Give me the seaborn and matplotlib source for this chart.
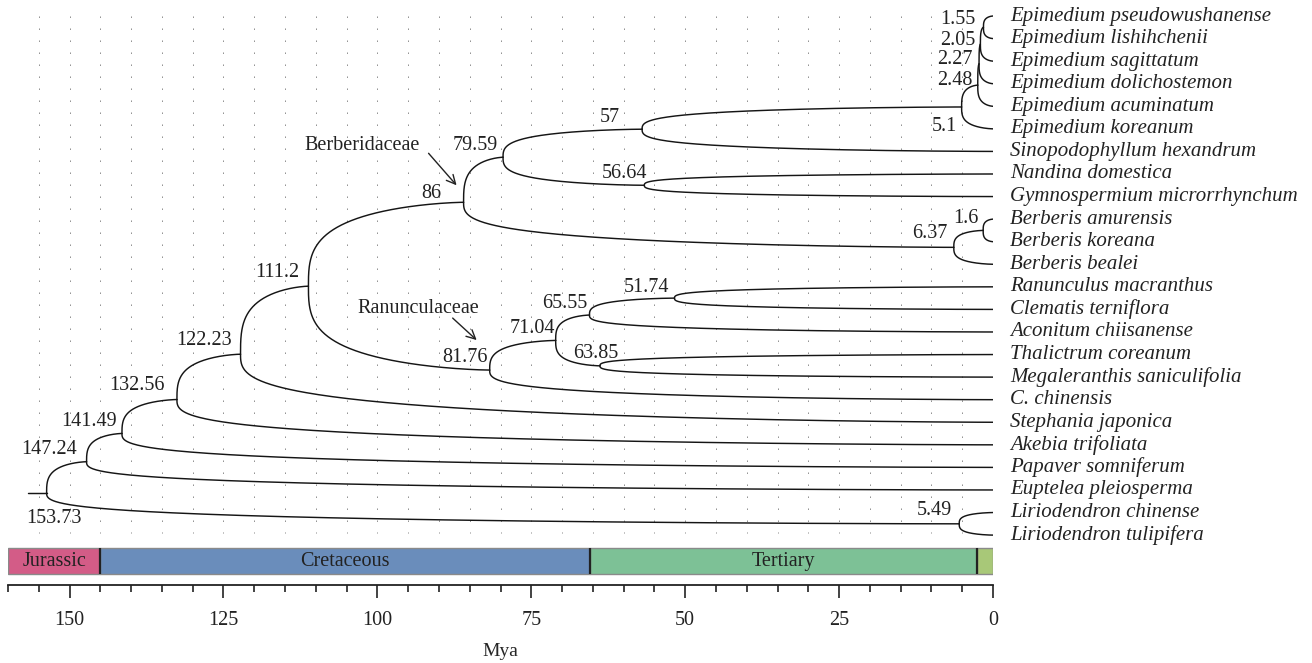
import matplotlib
matplotlib.use("Agg")
import matplotlib.pyplot as plt
import numpy as np
import pandas as pd
import seaborn as sns
from matplotlib.transforms import ScaledTranslation

# tips, top to bottom
tips = [
    "Epimedium pseudowushanense",
    "Epimedium lishihchenii",
    "Epimedium sagittatum",
    "Epimedium dolichostemon",
    "Epimedium acuminatum",
    "Epimedium koreanum",
    "Sinopodophyllum hexandrum",
    "Nandina domestica",
    "Gymnospermium microrrhynchum",
    "Berberis amurensis",
    "Berberis koreana",
    "Berberis bealei",
    "Ranunculus macranthus",
    "Clematis terniflora",
    "Aconitum chiisanense",
    "Thalictrum coreanum",
    "Megaleranthis saniculifolia",
    "C. chinensis",
    "Stephania japonica",
    "Akebia trifoliata",
    "Papaver somniferum",
    "Euptelea pleiosperma",
    "Liriodendron chinense",
    "Liriodendron tulipifera",
]

# internal nodes (age in Mya); children are tip names or earlier node indices
node_ages = [1.55, 2.05, 2.27, 2.48, 5.1, 57, 56.64, 79.59, 1.6, 6.37, 86,
             51.74, 65.55, 63.85, 71.04, 81.76, 111.2, 122.23, 132.56,
             141.49, 147.24, 5.49, 153.73]
node_children = [
    ("Epimedium pseudowushanense", "Epimedium lishihchenii"),
    (0, "Epimedium sagittatum"),
    (1, "Epimedium dolichostemon"),
    (2, "Epimedium acuminatum"),
    (3, "Epimedium koreanum"),
    (4, "Sinopodophyllum hexandrum"),
    ("Nandina domestica", "Gymnospermium microrrhynchum"),
    (5, 6),
    ("Berberis amurensis", "Berberis koreana"),
    (8, "Berberis bealei"),
    (7, 9),
    ("Ranunculus macranthus", "Clematis terniflora"),
    (11, "Aconitum chiisanense"),
    ("Thalictrum coreanum", "Megaleranthis saniculifolia"),
    (12, 13),
    (14, "C. chinensis"),
    (10, 15),
    (16, "Stephania japonica"),
    (17, "Akebia trifoliata"),
    (18, "Papaver somniferum"),
    (19, "Euptelea pleiosperma"),
    ("Liriodendron chinense", "Liriodendron tulipifera"),
    (20, 21),
]
root_stub = 3.1

clade_names = ["Berberidaceae", "Ranunculaceae"]
clade_nodes = [10, 15]

periods = ["Jurassic", "Cretaceous", "Tertiary", "Quaternary"]
period_start = [160, 145, 65.5, 2.6]
period_end = [145, 65.5, 2.6, 0]
period_colors = ["#d35c87", "#6a8dbb", "#7dc196", "#a8c878"]

# label offsets in pixels (dx, dy downwards, ha), same order as node_ages
label_off = [(-8, -8, "right"), (-5, -4, "right"), (-6, -4, "right"),
             (-5, -5, "right"), (-5, 20, "right"), (-22, -12, "right"),
             (3, -12, "right"), (-5, -12, "right"), (-5, -12, "right"),
             (-6, -14, "right"), (-22, -9, "right"), (-5, -11, "right"),
             (-2, -12, "right"), (18, -12, "right"), (-1, -12, "right"),
             (-2, -13, "right"), (-9, -14, "right"), (-9, -14, "right"),
             (-12, -14, "right"), (-5, -12, "right"), (-10, -12, "right"),
             (-7, -13, "right"), (7, 26, "center")]
# (text centre, arrow start, arrow tip) offsets from clade node in pixels
clade_off = [((-101, -57), (-35, -49), (-7, -17)),
             ((-71, -62), (-37, -52), (-13, -30))]

sns.set_theme(style="white")
plt.rcParams["font.family"] = ["Liberation Serif", "DejaVu Serif"]
plt.rcParams["text.color"] = "#222222"
plt.rcParams["xtick.color"] = "#222222"

DPI = 100
fig = plt.figure(figsize=(13.12, 6.63), dpi=DPI)
ax = fig.add_axes([8 / 1312, 78 / 663, 985 / 1312, 585 / 663])

tip_y = {name: i for i, name in enumerate(tips)}
node_y = []


def ypos(c):
    return tip_y[c] if isinstance(c, str) else node_y[c]


def age(c):
    return 0.0 if isinstance(c, str) else node_ages[c]


for kids in node_children:
    node_y.append(np.mean([ypos(k) for k in kids]))

# curved branches
s = np.linspace(0, 1, 150)
t = s ** 3
g = 1 - (1 - t ** 0.35) ** 1.5
parts = []
edge = 0
for i, kids in enumerate(node_children):
    for k in kids:
        parts.append(pd.DataFrame({
            "x": node_ages[i] + (age(k) - node_ages[i]) * t,
            "y": node_y[i] + (ypos(k) - node_y[i]) * g,
            "edge": edge,
        }))
        edge += 1
root = len(node_ages) - 1
parts.append(pd.DataFrame({"x": [node_ages[root] + root_stub, node_ages[root]],
                           "y": [node_y[root], node_y[root]], "edge": edge}))
branches = pd.concat(parts, ignore_index=True)

# dotted grid
row_h = 22.57
ax.vlines(np.arange(0, 156, 5), -0.04 + 1 / row_h, 22.9, colors="#8a8a8a",
          linestyles=(0, (1.4, 10.6)), linewidth=0.72, zorder=0)

sns.lineplot(data=branches, x="x", y="y", units="edge", estimator=None,
             sort=False, color="#151515", linewidth=1.05, legend=False, ax=ax)


def px_off(dx, dy):
    return ax.transData + ScaledTranslation(dx / DPI, -dy / DPI, fig.dpi_scale_trans)


# tip labels
for name in tips:
    ax.annotate(name, xy=(0, tip_y[name]), xytext=(17 * 0.72, 0),
                textcoords="offset points", ha="left", va="center",
                fontsize=15, fontstyle="italic", annotation_clip=False)

# node age labels
for i, a in enumerate(node_ages):
    dx, dy, ha = label_off[i]
    ax.annotate(f"{a:g}", xy=(a, node_y[i]), xytext=(dx * 0.72, -dy * 0.72),
                textcoords="offset points", ha=ha, va="center", fontsize=14.5,
                annotation_clip=False)

# clade annotations
for name, n, (txt, start, tip) in zip(clade_names, clade_nodes, clade_off):
    a, y = node_ages[n], node_y[n]
    ax.text(a, y, name, transform=px_off(*txt), ha="center", va="center",
            fontsize=14.5)
    ax.annotate("", xy=(a, y), xycoords=px_off(*tip),
                xytext=(a, y), textcoords=px_off(*start),
                arrowprops=dict(arrowstyle="->", color="#222222", lw=1.0,
                                shrinkA=0, shrinkB=0, mutation_scale=16))

# geological time bar
bar_y, bar_h = 24.15, 1.15
for name, st, en, col in zip(periods, period_start, period_end, period_colors):
    ax.barh(bar_y, st - en, left=en, height=bar_h, color=col,
            edgecolor="#8a8a8a", linewidth=1.0, zorder=2)
    if st - en > 10:
        ax.text((st + en) / 2, bar_y, name, ha="center", va="center",
                fontsize=14.5, zorder=3)
ax.vlines(period_start[1:], bar_y - bar_h / 2, bar_y + bar_h / 2,
          colors="#222222", linewidth=1.6, zorder=3)

ax.set_xlim(160, 0)
ax.set_ylim((585 - 16) / row_h, -16 / row_h)
ax.set_xticks(np.arange(0, 151, 25))
ax.set_xticks(np.arange(0, 161, 5), minor=True)
ax.set_yticks([])
ax.tick_params(axis="x", which="major", direction="out", length=9.5,
               width=1.2, pad=9, labelsize=14.5, bottom=True)
ax.tick_params(axis="x", which="minor", direction="out", length=5,
               width=1.2, bottom=True)
for side in ["top", "left", "right"]:
    ax.spines[side].set_visible(False)
ax.spines["bottom"].set_linewidth(1.3)
ax.spines["bottom"].set_color("#222222")
ax.set_xlabel("Mya", fontsize=14, labelpad=9.5)
ax.set_ylabel("")

fig.savefig("out.png", dpi=DPI)
